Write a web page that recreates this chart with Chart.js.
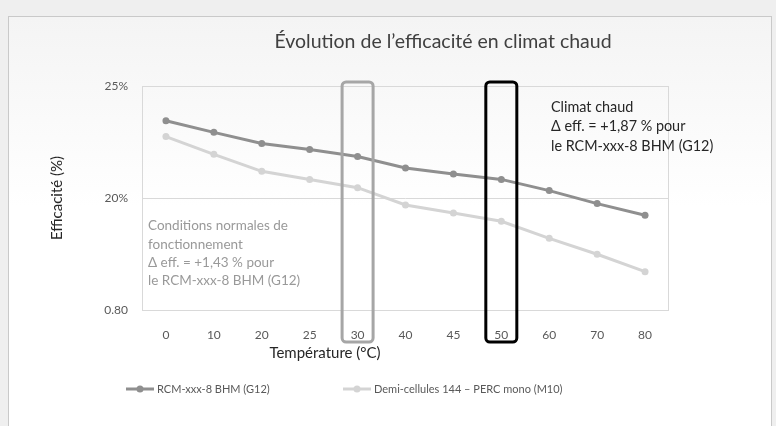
<!DOCTYPE html>
<html lang="fr">
<head>
  <meta charset="UTF-8">
  <title>Évolution de l'efficacité en climat chaud</title>
  <script src="https://cdn.jsdelivr.net/npm/chart.js"></script>
  <style>
    html, body { margin: 0; padding: 0; background: #efefef; width: 776px; height: 426px; overflow: hidden; }
    #card {
      position: absolute; left: 8px; top: 16px; width: 762px; height: 420px;
      border: 1px solid #c9c9c9;
      background: linear-gradient(#f4f4f4, #ffffff 45%);
    }
    #chart { position: absolute; left: 0; top: 0; }
  </style>
</head>
<body>
  <div id="card"></div>
  <canvas id="chart" width="776" height="426"></canvas>

  <script>
    // données
    const temperatures = ['0', '10', '20', '25', '30', '40', '45', '50', '60', '70', '80'];
    const rcmG12 = [23.45, 22.93, 22.43, 22.17, 21.85, 21.34, 21.07, 20.83, 20.33, 19.75, 19.23];
    const demiCellulesM10 = [22.74, 21.95, 21.19, 20.83, 20.46, 19.69, 19.33, 18.96, 18.2, 17.49, 16.71];
    const yTickValues = [15, 20, 25];
    const yTickLabels = ['0.80', '20%', '25%'];
    const highlightCats = ['30', '50'];

    const FONT = 'Lato, "Open Sans", sans-serif';

    // cadres, textes et légende dessinés à la main
    const decor = {
      id: 'decor',
      afterDraw(chart) {
        const { ctx, chartArea: a, scales: { x } } = chart;
        ctx.save();

        // cadre de la zone de tracé
        ctx.strokeStyle = '#d9d9d9';
        ctx.lineWidth = 1;
        ctx.strokeRect(a.left + 0.5, a.top + 0.5, a.right - a.left - 1, a.bottom - a.top);

        // rectangles arrondis autour de 30 et 50
        const boxColors = ['#a6a6a6', '#000000'];
        highlightCats.forEach((c, i) => {
          const cx = x.getPixelForValue(temperatures.indexOf(c));
          ctx.beginPath();
          ctx.roundRect(cx - 15.5, a.top - 4, 31, a.bottom - a.top + 36, 4);
          ctx.strokeStyle = boxColors[i];
          ctx.lineWidth = 3;
          ctx.stroke();
        });

        // titre
        ctx.fillStyle = '#404040';
        ctx.font = '19.5px ' + FONT;
        ctx.textAlign = 'center';
        ctx.textBaseline = 'middle';
        ctx.fillText('Évolution de l\u2019efficacité en climat chaud', 443, 42);

        // titres des axes
        ctx.fillStyle = '#262626';
        ctx.font = '15px ' + FONT;
        ctx.fillText('Température (°C)', 325, 353);
        ctx.save();
        ctx.translate(57, (a.top + a.bottom) / 2);
        ctx.rotate(-Math.PI / 2);
        ctx.fillText('Efficacité (%)', 0, 0);
        ctx.restore();

        // annotations
        ctx.textAlign = 'left';
        ctx.font = '13.5px ' + FONT;
        ctx.fillStyle = '#999999';
        ['Conditions normales de', 'fonctionnement', '\u0394 eff. = +1,43 % pour', 'le RCM-xxx-8 BHM (G12)']
          .forEach((t, i) => ctx.fillText(t, 148, 226 + i * 18.3));
        ctx.font = '14.4px ' + FONT;
        ctx.fillStyle = '#262626';
        ['Climat chaud', '\u0394 eff. = +1,87 % pour', 'le RCM-xxx-8 BHM (G12)']
          .forEach((t, i) => ctx.fillText(t, 551, 107 + i * 19.7));

        // légende
        const legendX = [126, 343];
        ctx.font = '11px ' + FONT;
        chart.data.datasets.forEach((ds, i) => {
          const lx = legendX[i], ly = 389;
          ctx.strokeStyle = ds.borderColor;
          ctx.lineWidth = 3;
          ctx.beginPath();
          ctx.moveTo(lx, ly);
          ctx.lineTo(lx + 28, ly);
          ctx.stroke();
          ctx.fillStyle = ds.borderColor;
          ctx.beginPath();
          ctx.arc(lx + 14, ly, 3.5, 0, Math.PI * 2);
          ctx.fill();
          ctx.fillStyle = '#595959';
          ctx.fillText(ds.label, lx + 31, ly);
        });

        ctx.restore();
      }
    };

    new Chart(document.getElementById('chart'), {
      type: 'line',
      data: {
        labels: temperatures,
        datasets: [
          {
            label: 'RCM-xxx-8 BHM (G12)',
            data: rcmG12,
            borderColor: '#8f8f8f',
            backgroundColor: '#8f8f8f',
            borderWidth: 3,
            pointRadius: 3.5,
            pointBorderWidth: 0,
            pointBackgroundColor: '#8f8f8f',
            tension: 0
          },
          {
            label: 'Demi-cellules 144 \u2013 PERC mono (M10)',
            data: demiCellulesM10,
            borderColor: '#d4d4d4',
            backgroundColor: '#d4d4d4',
            borderWidth: 3,
            pointRadius: 3.5,
            pointBorderWidth: 0,
            pointBackgroundColor: '#d4d4d4',
            tension: 0
          }
        ]
      },
      options: {
        responsive: false,
        animation: false,
        layout: { padding: { top: 86, right: 107, left: 0, bottom: 0 } },
        plugins: {
          legend: { display: false },
          title: { display: false },
          tooltip: { enabled: false }
        },
        scales: {
          x: {
            offset: true,
            grid: { display: false },
            border: { display: false },
            ticks: { color: '#595959', font: { family: FONT, size: 12 }, padding: 10 },
            afterFit: s => { s.height = 116; }
          },
          y: {
            min: 15,
            max: 25,
            afterBuildTicks: s => { s.ticks = yTickValues.map(v => ({ value: v })); },
            grid: { color: '#d9d9d9', drawTicks: false },
            border: { display: false },
            ticks: {
              color: '#595959',
              font: { family: FONT, size: 12 },
              padding: 14,
              callback: v => yTickLabels[yTickValues.indexOf(v)]
            },
            afterFit: s => { s.width = 142; }
          }
        }
      },
      plugins: [decor]
    });
  </script>
</body>
</html>
